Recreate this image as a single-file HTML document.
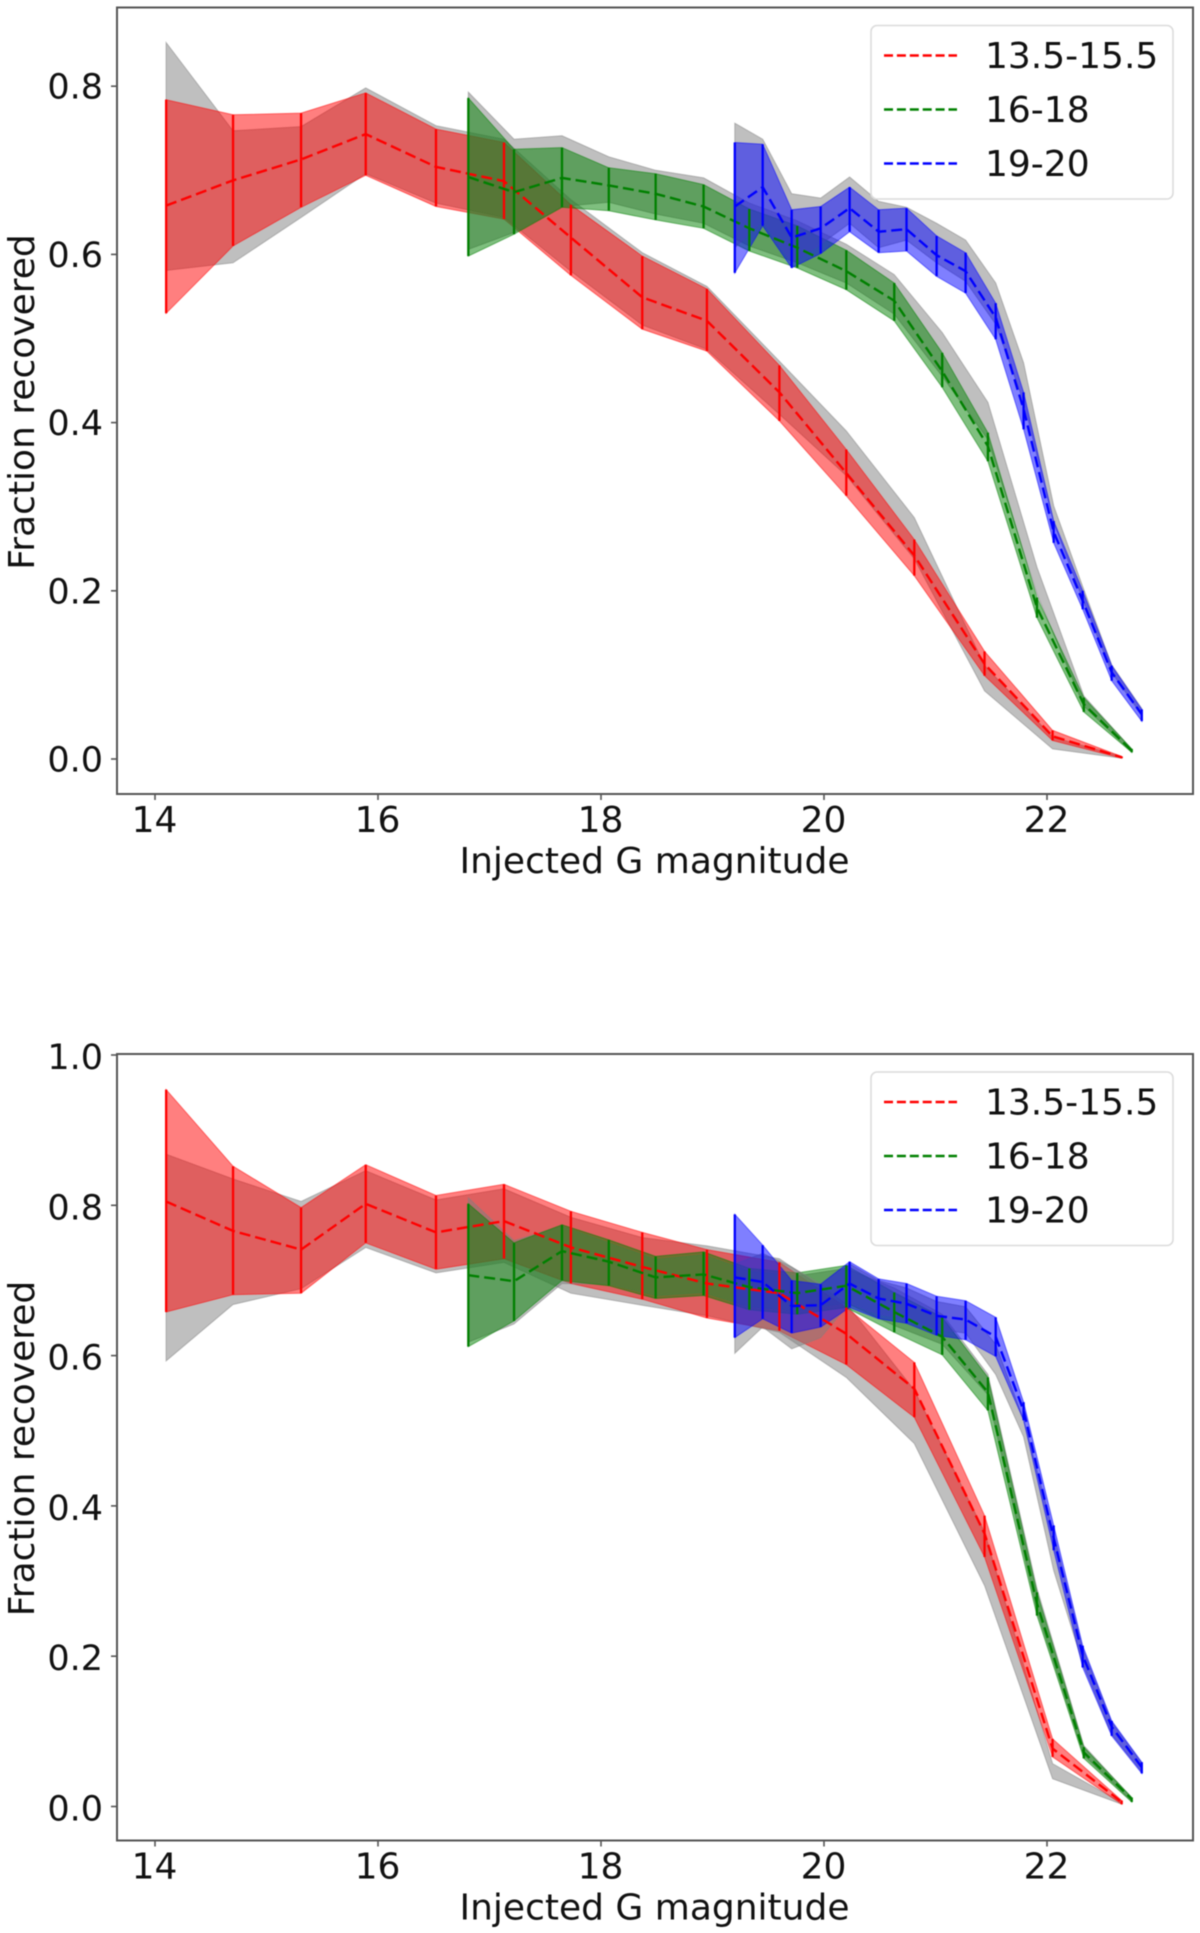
<!DOCTYPE html>
<html lang="en">
<head>
<meta charset="utf-8">
<title>Fraction recovered vs injected G magnitude</title>
<style>
html,body{margin:0;padding:0;background:#fff;}
body{width:1200px;height:1933px;overflow:hidden;}
#chart{display:block;width:1200px;height:1933px;filter:blur(0.55px);}
text{font-family:"DejaVu Sans","Liberation Sans",sans-serif;fill:#111;}
</style>
</head>
<body>
<svg id="chart" xmlns="http://www.w3.org/2000/svg" width="1200" height="1933" viewBox="0 0 1200 1933"></svg>
<script>
/* ---------- shared magnitudes ---------- */
const redX = [14.1,14.7,15.31,15.89,16.52,17.13,17.73,18.37,18.95,19.6,20.2,20.81,21.44,22.05,22.67];
const greenX = [16.81,17.22,17.65,18.07,18.49,18.92,19.33,19.76,20.2,20.63,21.06,21.47,21.91,22.33,22.76];
const blueX = [19.2,19.45,19.71,19.97,20.23,20.49,20.74,21.01,21.27,21.54,21.79,22.06,22.32,22.58,22.85];

/* ---------- top panel values ---------- */
const topRedMid = [.658,.688,.713,.743,.704,.687,.620,.549,.521,.436,.340,.242,.113,.027,.002];
const topRedHi = [.784,.766,.768,.792,.749,.733,.659,.598,.559,.468,.368,.261,.128,.034,.003];
const topRedLo = [.530,.610,.656,.694,.657,.642,.575,.511,.485,.402,.313,.218,.099,.022,.001];
const topRedGrayHi = [.852,.747,.752,.798,.753,.737,.665,.602,.562,.473,.390,.287,.111,.026,.003];
const topRedGrayLo = [.581,.590,.644,.696,.661,.644,.580,.516,.487,.410,.337,.238,.081,.012,.001];

const topGreenMid = [.692,.674,.691,.682,.672,.657,.631,.608,.580,.545,.461,.372,.180,.065,.010];
const topGreenHi = [.786,.725,.727,.703,.696,.683,.654,.634,.605,.566,.483,.388,.192,.073,.012];
const topGreenLo = [.598,.624,.656,.652,.641,.631,.604,.584,.558,.521,.442,.354,.168,.056,.008];
const topGreenGrayHi = [.793,.737,.741,.716,.700,.691,.661,.640,.612,.576,.507,.424,.228,.075,.012];
const topGreenGrayLo = [.606,.626,.657,.662,.648,.637,.610,.590,.566,.529,.455,.380,.196,.063,.008];

const topBlueMid = [.657,.680,.620,.631,.655,.627,.630,.599,.580,.525,.416,.270,.188,.103,.053];
const topBlueHi = [.733,.731,.653,.657,.680,.653,.655,.622,.602,.542,.436,.283,.200,.111,.059];
const topBlueLo = [.578,.634,.584,.601,.627,.602,.604,.574,.554,.499,.392,.257,.178,.093,.045];
const topBlueGrayHi = [.756,.737,.672,.667,.692,.663,.656,.637,.617,.566,.471,.301,.205,.112,.060];
const topBlueGrayLo = [.608,.640,.590,.612,.637,.608,.617,.590,.568,.517,.425,.281,.190,.103,.052];

/* ---------- bottom panel values ---------- */
const botRedMid = [.805,.766,.741,.802,.764,.779,.744,.718,.696,.683,.629,.556,.363,.077,.006];
const botRedHi = [.954,.852,.797,.854,.813,.828,.792,.764,.741,.724,.664,.591,.387,.090,.008];
const botRedLo = [.658,.681,.683,.750,.715,.729,.696,.675,.650,.633,.588,.518,.332,.066,.003];
const botRedGrayHi = [.868,.835,.805,.846,.807,.822,.784,.757,.746,.729,.669,.554,.365,.057,.005];
const botRedGrayLo = [.593,.668,.689,.744,.710,.724,.683,.667,.653,.631,.571,.483,.294,.037,.003];

const botGreenMid = [.707,.699,.739,.725,.704,.708,.691,.683,.693,.658,.625,.551,.270,.072,.010];
const botGreenHi = [.802,.750,.774,.754,.732,.738,.716,.710,.720,.684,.651,.571,.285,.079,.012];
const botGreenLo = [.612,.646,.700,.693,.676,.680,.661,.655,.664,.631,.601,.527,.254,.064,.006];
const botGreenGrayHi = [.810,.753,.772,.750,.728,.734,.712,.706,.716,.690,.655,.575,.290,.081,.012];
const botGreenGrayLo = [.618,.642,.696,.695,.680,.684,.665,.660,.670,.640,.615,.548,.260,.068,.007];

const botBlueMid = [.704,.698,.666,.667,.696,.676,.669,.653,.648,.625,.527,.357,.201,.106,.052];
const botBlueHi = [.788,.747,.700,.695,.725,.702,.696,.679,.673,.651,.538,.374,.214,.114,.059];
const botBlueLo = [.624,.649,.630,.638,.664,.649,.643,.627,.621,.599,.514,.341,.185,.094,.044];
const botBlueGrayHi = [.722,.736,.718,.695,.722,.700,.690,.672,.665,.615,.515,.363,.210,.112,.058];
const botBlueGrayLo = [.603,.638,.609,.624,.670,.655,.650,.635,.630,.575,.492,.314,.190,.096,.046];

/* ---------- ticks and labels ---------- */
const xTickValues = [14,16,18,20,22];
const topYTickValues = [0,0.2,0.4,0.6,0.8];
const botYTickValues = [0,0.2,0.4,0.6,0.8,1.0];
const legendLabels = ['13.5-15.5','16-18','19-20'];
const seriesColors = ['#ff0000','#008000','#0000ff'];

const NS = 'http://www.w3.org/2000/svg';
const svg = document.getElementById('chart');

function mk(tag, attrs, parent) {
  const el = document.createElementNS(NS, tag);
  for (const k in attrs) el.setAttribute(k, attrs[k]);
  parent.appendChild(el);
  return el;
}
function xScale(v) { return 155 + (v - 14) * 111.5; }

function drawPanel(prefix, offsetY, y0, yUnit, yTicks, labelShift, series) {
  const yScale = function (v) { return y0 - v * yUnit; };
  const g = mk('g', {}, svg);
  
  

  const toPts = function (xs, ys) { return xs.map(function (x, i) { return xScale(x).toFixed(1) + ',' + yScale(ys[i]).toFixed(1); }); };
  const band = function (xs, hi, lo) { return toPts(xs, hi).concat(toPts(xs, lo).reverse()).join(' '); };

  /* filled bands first */
  series.forEach(function (s) {
    const grayBand = mk('polygon', { points: band(s.x, s.grayHi, s.grayLo), fill: '#808080', 'fill-opacity': 0.5, stroke: '#808080', 'stroke-opacity': 0.5, 'stroke-width': 1 }, g);
    
    
    const colorBand = mk('polygon', { points: band(s.x, s.hi, s.lo), fill: s.color, 'fill-opacity': 0.5, stroke: s.color, 'stroke-opacity': 0.5, 'stroke-width': 1 }, g);
    
    
  });

  /* lines and error bars on top */
  series.forEach(function (s) {
    const line = mk('polyline', { points: toPts(s.x, s.mid).join(' '), fill: 'none', stroke: s.color, 'stroke-width': 2.4, 'stroke-dasharray': '11 5' }, g);
    
    
    s.x.forEach(function (x, i) {
      const bar = mk('line', { x1: xScale(x), x2: xScale(x), y1: yScale(s.hi[i]), y2: yScale(s.lo[i]), stroke: s.color, 'stroke-width': 2.3 }, g);
      
      
    });
  });

  /* frame */
  const frame = mk('rect', { x: 117, y: 7.5 + offsetY, width: 1076, height: 786.5, fill: 'none', stroke: '#555', 'stroke-width': 2 }, g);
  
  

  /* x ticks */
  xTickValues.forEach(function (v) {
    const tick = mk('line', { x1: xScale(v), x2: xScale(v), y1: 794 + offsetY, y2: 800 + offsetY, stroke: '#555', 'stroke-width': 1.6 }, g);
    
    
    const label = mk('text', { x: xScale(v) - 0.5, y: 832 + offsetY, 'font-size': 36, 'text-anchor': 'middle' }, g);
    label.textContent = String(v);
    
    
  });

  /* y ticks */
  yTicks.forEach(function (v) {
    const tick = mk('line', { x1: 111, x2: 117, y1: yScale(v), y2: yScale(v), stroke: '#555', 'stroke-width': 1.6 }, g);
    
    
    const label = mk('text', { x: 103, y: yScale(v) + labelShift, 'font-size': 35, 'text-anchor': 'end' }, g);
    label.textContent = v.toFixed(1);
    
    
  });

  /* axis titles */
  const xTitle = mk('text', { x: 654.5, y: 873 + offsetY, 'font-size': 36, 'text-anchor': 'middle' }, g);
  xTitle.textContent = 'Injected G magnitude';
  
  

  const yTitle = mk('text', { x: 0, y: 0, 'font-size': 36, 'text-anchor': 'middle', transform: 'translate(34,' + (402 + offsetY) + ') rotate(-90)' }, g);
  yTitle.textContent = 'Fraction recovered';
  
  

  /* legend */
  const legend = mk('g', {}, g);
  
  
  const box = mk('rect', { x: 871, y: 25.5 + offsetY, width: 302, height: 173.5, rx: 6, ry: 6, fill: '#fff', 'fill-opacity': 0.8, stroke: '#dcdcdc', 'stroke-width': 1.6 }, legend);
  
  
  legendLabels.forEach(function (text, i) {
    const ly = 55.5 + offsetY + i * 54;
    const swatch = mk('line', { x1: 884, x2: 957, y1: ly, y2: ly, stroke: seriesColors[i], 'stroke-width': 2.4, 'stroke-dasharray': '9 3.9' }, legend);
    
    
    const label = mk('text', { x: 985, y: ly + 12.5, 'font-size': 36 }, legend);
    label.textContent = text;
    
    
  });
}

drawPanel('top', 0, 759, 841, topYTickValues, 12.5, [
  { name: 'red', color: seriesColors[0], x: redX, mid: topRedMid, hi: topRedHi, lo: topRedLo, grayHi: topRedGrayHi, grayLo: topRedGrayLo },
  { name: 'green', color: seriesColors[1], x: greenX, mid: topGreenMid, hi: topGreenHi, lo: topGreenLo, grayHi: topGreenGrayHi, grayLo: topGreenGrayLo },
  { name: 'blue', color: seriesColors[2], x: blueX, mid: topBlueMid, hi: topBlueHi, lo: topBlueLo, grayHi: topBlueGrayHi, grayLo: topBlueGrayLo }
]);

drawPanel('bottom', 1046.5, 1806.5, 751.5, botYTickValues, 14, [
  { name: 'red', color: seriesColors[0], x: redX, mid: botRedMid, hi: botRedHi, lo: botRedLo, grayHi: botRedGrayHi, grayLo: botRedGrayLo },
  { name: 'green', color: seriesColors[1], x: greenX, mid: botGreenMid, hi: botGreenHi, lo: botGreenLo, grayHi: botGreenGrayHi, grayLo: botGreenGrayLo },
  { name: 'blue', color: seriesColors[2], x: blueX, mid: botBlueMid, hi: botBlueHi, lo: botBlueLo, grayHi: botBlueGrayHi, grayLo: botBlueGrayLo }
]);
</script>
</body>
</html>
